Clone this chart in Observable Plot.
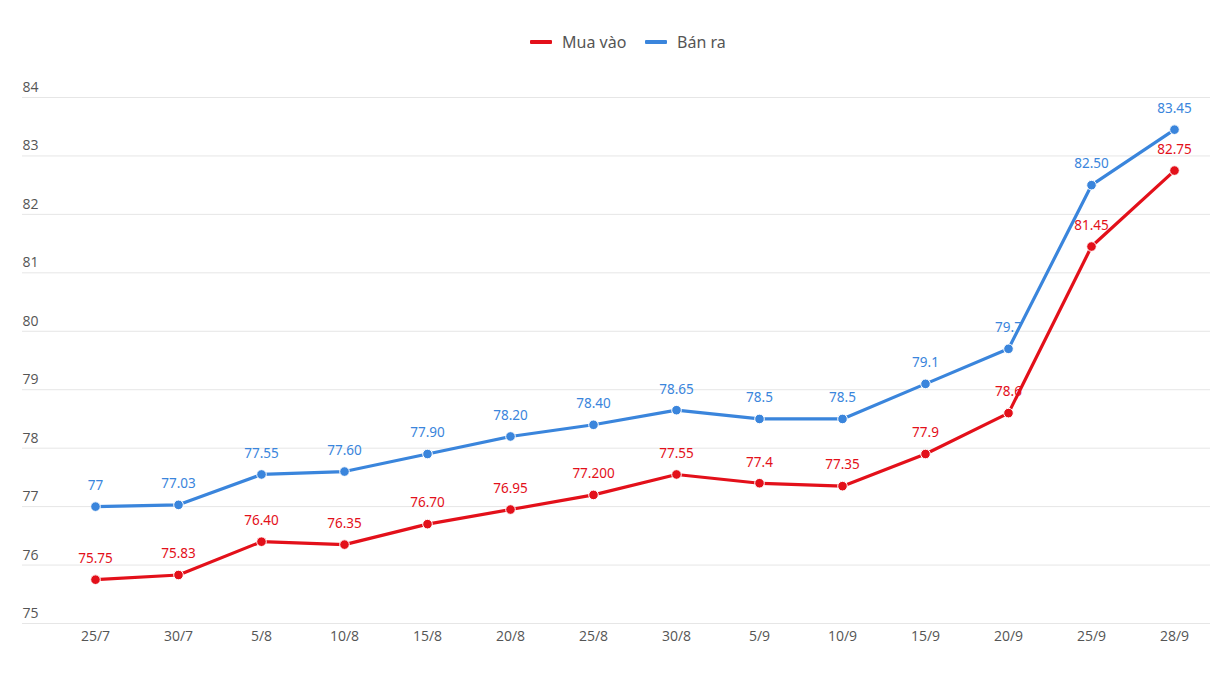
<!DOCTYPE html>
<html>
<head>
<meta charset="utf-8">
<script src="https://cdn.jsdelivr.net/npm/d3@7"></script>
<script src="https://cdn.jsdelivr.net/npm/@observablehq/plot@0.6"></script>
<style>
  html, body { margin: 0; padding: 0; background: #fff; }
  body { width: 1210px; height: 685px; overflow: hidden; font-family: "Open Sans", "Noto Sans", sans-serif; }
  #legend { height: 70px; position: relative; }
  .item { position: absolute; top: 31px; display: flex; align-items: center; font-size: 16px; color: #555; font-family: "Noto Sans", sans-serif; }
  .sw { width: 22px; height: 4px; border-radius: 1px; margin-right: 10px; display: inline-block; }
</style>
</head>
<body>
<div id="legend">
  <div class="item" style="left:530px"><span class="sw" style="background:#e3101a"></span>Mua vào</div>
  <div class="item" style="left:645px"><span class="sw" style="background:#3a85dc"></span>Bán ra</div>
</div>
<div id="chart"></div>
<script>
const dates = ["25/7","30/7","5/8","10/8","15/8","20/8","25/8","30/8","5/9","10/9","15/9","20/9","25/9","28/9"];
const buyValues = [75.75,75.83,76.40,76.35,76.70,76.95,77.20,77.55,77.4,77.35,77.9,78.6,81.45,82.75];
const buyLabels = ["75.75","75.83","76.40","76.35","76.70","76.95","77.200","77.55","77.4","77.35","77.9","78.6","81.45","82.75"];
const sellValues = [77,77.03,77.55,77.60,77.90,78.20,78.40,78.65,78.5,78.5,79.1,79.7,82.50,83.45];
const sellLabels = ["77","77.03","77.55","77.60","77.90","78.20","78.40","78.65","78.5","78.5","79.1","79.7","82.50","83.45"];
const yTicks = [75,76,77,78,79,80,81,82,83,84];
const seriesNames = ["Mua vào","Bán ra"];
const colors = ["#e3101a","#3a85dc"];

const rows = [];
dates.forEach((d,i)=>{
  rows.push({date:d, value:buyValues[i], label:buyLabels[i], series:seriesNames[0]});
  rows.push({date:d, value:sellValues[i], label:sellLabels[i], series:seriesNames[1]});
});

const chart = Plot.plot({
  width: 1210,
  height: 615,
  marginTop: 27,
  marginBottom: 62,
  marginLeft: 22,
  marginRight: 0,
  style: {fontFamily: "'Open Sans', 'Noto Sans', sans-serif", background: "#fff"},
  x: {type: "point", domain: dates, padding: 0, range: [89, 1180]},
  y: {domain: [75, 84], ticks: yTicks},
  color: {domain: seriesNames, range: colors},
  marks: [
    Plot.ruleY(yTicks, {stroke: "#e6e6e6", strokeWidth: 1}),
    Plot.axisY({ticks: yTicks, anchor: "left", tickSize: 0, tickPadding: 0, textAnchor: "start", dy: -10, fontSize: 14, fill: "#555", label: null}),
    Plot.axisX({anchor: "bottom", tickSize: 0, tickPadding: 8, fontSize: 14, fill: "#555", label: null}),
    Plot.text(rows, {x: "date", y: "value", text: "label", fill: "series", dy: -21, fontSize: 13.5, fontFamily: "'Noto Sans', sans-serif"}),
    Plot.line(rows, {x: "date", y: "value", stroke: "series", z: "series", strokeWidth: 3.2, curve: "linear"}),
    Plot.dot(rows, {x: "date", y: "value", fill: "series", r: 4.8, stroke: "#fff", strokeWidth: 1})
  ]
});
document.getElementById("chart").appendChild(chart);
</script>
</body>
</html>
